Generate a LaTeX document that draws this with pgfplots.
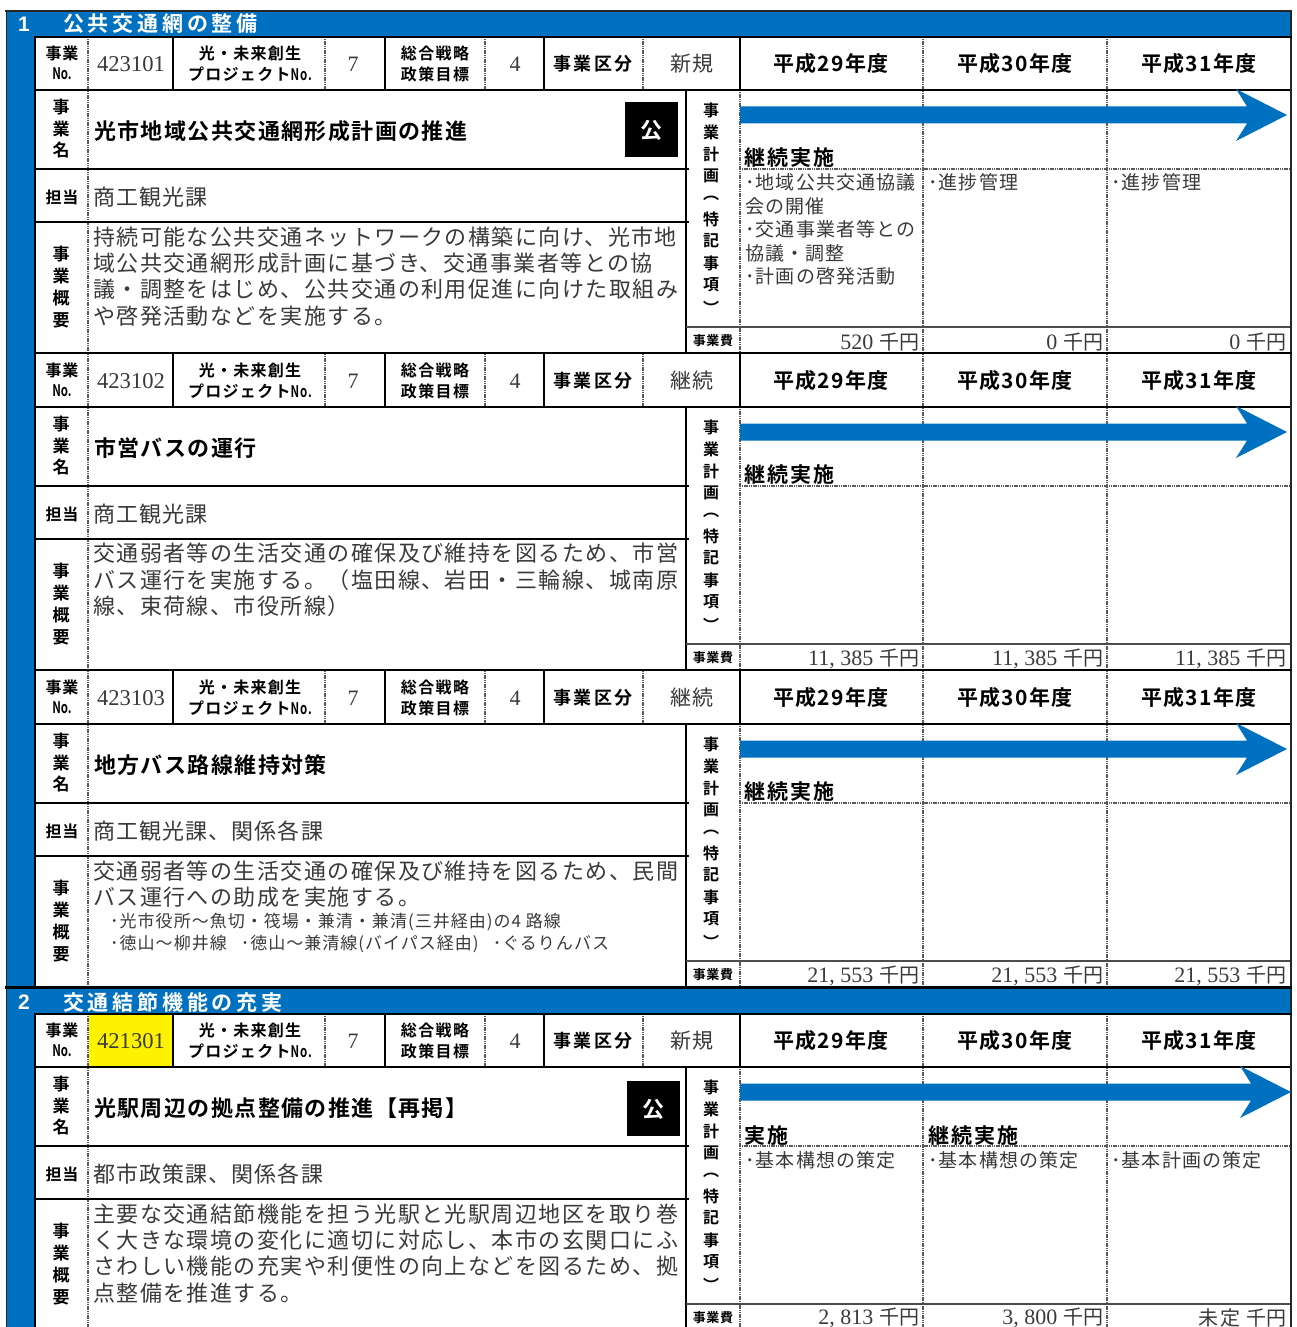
\documentclass[border=0pt]{standalone}
\usepackage{pgfplots}
\pgfplotsset{compat=1.18}
\usepackage{fontspec}
\setmainfont{Noto Sans CJK JP}[BoldFont={Noto Sans CJK JP Bold}]
\newfontfamily\ser{Liberation Serif}
\newfontfamily\san{Liberation Sans}[BoldFont={Liberation Sans Bold}]
\definecolor{bl}{HTML}{0070C0}
\definecolor{ink}{HTML}{3A3A3A}
\definecolor{dotg}{HTML}{5A5A5A}
\newcommand\jt[3]{{\fontsize{#1}{#1}\selectfont\addfontfeature{LetterSpace=#2}#3}}
\newcommand\HL[4]{\edef\tmp{\noexpand\addplot[#4] coordinates {(#1,\fpeval{#3})(#2,\fpeval{#3})};}\tmp}
\newcommand\VL[4]{\edef\tmp{\noexpand\addplot[#4] coordinates {(#1,\fpeval{#2})(#1,\fpeval{#3})};}\tmp}
\newcommand\RC[5]{\edef\tmp{\noexpand\addplot[fill=#5,draw=none] coordinates {(#1,\fpeval{#3})(#2,\fpeval{#3})(#2,\fpeval{#4})(#1,\fpeval{#4})} --cycle;}\tmp}
\newcommand\TC[3]{\node[anchor=center,inner sep=0pt,text=ink] at (axis cs:#1,\fpeval{#2}) {#3};}
\newcommand\TL[3]{\node[anchor=west,inner sep=0pt,text=ink] at (axis cs:#1,\fpeval{#2}) {#3};}
\newcommand\TR[3]{\node[anchor=east,inner sep=0pt,text=ink] at (axis cs:#1,\fpeval{#2}) {#3};}
\newcommand\BC[3]{\node[anchor=center,inner sep=0pt,text=black] at (axis cs:#1,\fpeval{#2}) {\bfseries #3};}
\newcommand\BL[3]{\node[anchor=west,inner sep=0pt,text=black] at (axis cs:#1,\fpeval{#2}) {\bfseries #3};}
\tikzset{thk/.style={black,line width=2.6pt},thn/.style={black,line width=1.6pt},dt/.style={dotg,line width=2.4pt,dash pattern=on 1.2pt off 0.6pt},fe/.style={black!70,line width=1.3pt}}
\newcommand\Frame[1]{%
  \VL{88}{#1}{#1+315}{dt}
  \VL{325}{#1}{#1+53}{dt}
  \VL{485}{#1}{#1+53}{dt}
  \VL{643}{#1}{#1+53}{dt}
  \VL{173}{#1}{#1+53}{thn}
  \VL{385}{#1}{#1+53}{thn}
  \VL{544}{#1}{#1+53}{thn}
  \VL{740}{#1}{#1+53}{thn}
  \VL{740}{#1+53}{#1+315}{dt}
  \VL{923}{#1}{#1+315}{dt}
  \VL{1107}{#1}{#1+315}{dt}
  \VL{686}{#1+53}{#1+315}{thn}
  \HL{36}{1290}{#1+53}{thk}
  \HL{36}{689}{#1+132}{thn}
  \HL{36}{689}{#1+185}{thn}
  \HL{740}{1290}{#1+132}{dt}
  \HL{686}{1290}{#1+290}{fe}
}
\newcommand\Arrow[2]{% #1 y0, #2 x shift of the head
  \edef\tmp{\noexpand\addplot[fill=bl,draw=none] coordinates {(740,\fpeval{#1+69.5})(\fpeval{1247+#2},\fpeval{#1+69.5})(\fpeval{1236+#2},\fpeval{#1+52})(\fpeval{1287+#2},\fpeval{#1+78})(\fpeval{1236+#2},\fpeval{#1+104})(\fpeval{1247+#2},\fpeval{#1+86.5})(740,\fpeval{#1+86.5})} --cycle;}\tmp
}
\newcommand\Nar{\scalebox{.72}[1]{No.}}
\newcommand\Body[5]{%
  \BC{62}{#1+16}{\jt{16}{6}{事業}}
  \BC{62}{#1+37}{\jt{16}{0}{\Nar}}
  \TC{131}{#1+27}{\fontsize{22.6}{22.6}\selectfont\ser #2}
  \BC{250}{#1+16}{\jt{16}{8}{光・未来創生}}
  \BC{250}{#1+37}{\jt{16}{8}{プロジェクト\Nar}}
  \TC{353}{#1+27}{\fontsize{22}{22}\selectfont\ser 7}
  \BC{435}{#1+16}{\jt{16}{9}{総合戦略}}
  \BC{435}{#1+37}{\jt{16}{9}{政策目標}}
  \TC{515}{#1+27}{\fontsize{22}{22}\selectfont\ser 4}
  \BC{593}{#1+26.5}{\jt{18}{14}{事業区分}}
  \TC{692}{#1+27}{\jt{21}{7}{#3}}
  \BC{831}{#1+27}{\jt{21}{6}{平成29年度}}
  \BC{1015}{#1+27}{\jt{21}{6}{平成30年度}}
  \BC{1199}{#1+27}{\jt{21}{6}{平成31年度}}
  \BC{61}{#1+70}{\jt{17}{0}{事}}
  \BC{61}{#1+92}{\jt{17}{0}{業}}
  \BC{61}{#1+113}{\jt{17}{0}{名}}
  \BL{94}{#1+94}{\jt{22}{6.4}{#4}}
  \BC{62}{#1+160}{\jt{16}{6}{担当}}
  \TL{93}{#1+160}{\jt{22}{5}{#5}}
  \BC{61}{#1+217}{\jt{17}{0}{事}}
  \BC{61}{#1+239}{\jt{17}{0}{業}}
  \BC{61}{#1+261}{\jt{17}{0}{概}}
  \BC{61}{#1+283}{\jt{17}{0}{要}}
  \BC{711}{#1+73}{\jt{16}{0}{事}}
  \BC{711}{#1+95}{\jt{16}{0}{業}}
  \BC{711}{#1+117}{\jt{16}{0}{計}}
  \BC{711}{#1+139}{\jt{16}{0}{画}}
  \BC{711}{#1+161}{\jt{16}{0}{︵}}
  \BC{711}{#1+182}{\jt{16}{0}{特}}
  \BC{711}{#1+204}{\jt{16}{0}{記}}
  \BC{711}{#1+226}{\jt{16}{0}{事}}
  \BC{711}{#1+248}{\jt{16}{0}{項}}
  \BC{711}{#1+271}{\jt{16}{0}{︶}}
  \BC{713}{#1+304}{\jt{13}{5}{事業費}}
}
\newcommand\Fee[3]{\TR{#1}{#2+305}{\fontsize{20}{20}\selectfont #3}}
\newcommand\Num[1]{{\fontsize{22}{22}\selectfont\ser #1}}
\newcommand\Sen{\hspace{6pt}\jt{20}{2}{千円}}
\newcommand\Bl[4]{\BL{#1}{#2+121}{\jt{21}{10}{#3}}}
\newcommand\PP[3]{\RC{#1}{\fpeval{#1+53}}{#2}{\fpeval{#2+55}}{black}\node[inner sep=0pt,text=white] at (axis cs:\fpeval{#1+26.5},\fpeval{#2+28}) {\bfseries\jt{22}{0}{公}};}
\newcommand\SL[2]{\TL{93}{#1}{\jt{22}{6.6}{#2}}}
\newcommand\NT[3]{\TL{#1}{#2}{\jt{19}{6}{#3}}}
\begin{document}
\begin{tikzpicture}
\begin{axis}[scale only axis,width=1297pt,height=1327pt,xmin=0,xmax=1297,ymin=0,ymax=1327,y dir=reverse,hide axis,clip=true]
\addplot[fill=white,draw=none] coordinates {(0,0)(1297,0)(1297,1327)(0,1327)} --cycle;
\RC{6}{1291}{11}{36}{bl}
\RC{6}{34}{36}{1327}{bl}
\RC{6}{1291}{988}{1014}{bl}
\RC{89}{172}{1015}{1066}{yellow}
\Frame{37}
\Frame{354}
\Frame{671}
\Frame{1014}
\HL{5}{1292}{11}{black!85,line width=2pt}
\VL{6.5}{11}{1327}{black!85,line width=1.4pt}
\VL{1291}{11}{1327}{black!85,line width=1.6pt}
\VL{35}{36}{988}{thk}
\VL{35}{1014}{1327}{thk}
\HL{34}{1292}{37}{thk}
\HL{34}{1292}{353}{thk}
\HL{34}{1292}{670}{thk}
\HL{5}{1292}{987}{line width=3pt,black}
\HL{34}{1292}{1014}{thk}
\Arrow{37}{0}
\Arrow{354}{0}
\Arrow{671}{0}
\Arrow{1014}{4}
% block 1
\Body{37}{423101}{新規}{光市地域公共交通網形成計画の推進}{商工観光課}
\PP{625}{102}{}
\SL{37+200}{持続可能な公共交通ネットワークの構築に向け、光市地}
\SL{37+226}{域公共交通網形成計画に基づき、交通事業者等との協}
\SL{37+252}{議・調整をはじめ、公共交通の利用促進に向けた取組み}
\SL{37+279}{や啓発活動などを実施する。}
\Bl{744}{37}{継続実施}{}
\NT{745}{37+145}{･地域公共交通協議}
\NT{745}{37+169}{会の開催}
\NT{745}{37+192}{･交通事業者等との}
\NT{745}{37+216}{協議・調整}
\NT{745}{37+239}{･計画の啓発活動}
\NT{928}{37+145}{･進捗管理}
\NT{1111}{37+145}{･進捗管理}
\Fee{920}{37}{\Num{520}\Sen}
\Fee{1104}{37}{\Num{0}\Sen}
\Fee{1287}{37}{\Num{0}\Sen}
% block 2
\Body{354}{423102}{継続}{市営バスの運行}{商工観光課}
\SL{354+199}{交通弱者等の生活交通の確保及び維持を図るため、市営}
\SL{354+226}{バス運行を実施する。（塩田線、岩田・三輪線、城南原}
\SL{354+252}{線、束荷線、市役所線）}
\Bl{744}{354}{継続実施}{}
\Fee{920}{354}{\Num{11, 385}\Sen}
\Fee{1104}{354}{\Num{11, 385}\Sen}
\Fee{1287}{354}{\Num{11, 385}\Sen}
% block 3
\Body{671}{423103}{継続}{地方バス路線維持対策}{商工観光課、関係各課}
\SL{671+200}{交通弱者等の生活交通の確保及び維持を図るため、民間}
\SL{671+226}{バス運行への助成を実施する。}
\TL{110}{671+251}{\jt{17}{6}{･光市役所～魚切・筏場・兼清・兼清(三井経由)の4 路線}}
\TL{110}{671+273}{\jt{17}{6}{･徳山～柳井線\hspace{14pt}･徳山～兼清線(バイパス経由)\hspace{14pt}･ぐるりんバス}}
\Bl{744}{671}{継続実施}{}
\Fee{920}{671}{\Num{21, 553}\Sen}
\Fee{1104}{671}{\Num{21, 553}\Sen}
\Fee{1287}{671}{\Num{21, 553}\Sen}
% block 4
\Body{1014}{421301}{新規}{光駅周辺の拠点整備の推進【再掲】}{都市政策課、関係各課}
\PP{627}{1081}{}
\SL{1014+200}{主要な交通結節機能を担う光駅と光駅周辺地区を取り巻}
\SL{1014+226}{く大きな環境の変化に適切に対応し、本市の玄関口にふ}
\SL{1014+252}{さわしい機能の充実や利便性の向上などを図るため、拠}
\SL{1014+279}{点整備を推進する。}
\Bl{744}{1015}{実施}{}
\Bl{928}{1015}{継続実施}{}
\NT{745}{1014+146}{･基本構想の策定}
\NT{928}{1014+146}{･基本構想の策定}
\NT{1111}{1014+146}{･基本計画の策定}
\Fee{920}{1013}{\Num{2, 813}\Sen}
\Fee{1104}{1013}{\Num{3, 800}\Sen}
\Fee{1287}{1013}{\jt{20}{8}{未定}\Sen}
% band titles
\node[anchor=center,inner sep=0pt,text=white] at (axis cs:24,24) {\fontsize{21}{21}\selectfont\san\bfseries 1};
\node[anchor=west,inner sep=0pt,text=white] at (axis cs:63,24) {\bfseries\jt{21}{18}{公共交通網の整備}};
\node[anchor=center,inner sep=0pt,text=white] at (axis cs:24,1002) {\fontsize{21}{21}\selectfont\san\bfseries 2};
\node[anchor=west,inner sep=0pt,text=white] at (axis cs:63,1002) {\bfseries\jt{21}{18}{交通結節機能の充実}};
\end{axis}
\end{tikzpicture}
\end{document}
